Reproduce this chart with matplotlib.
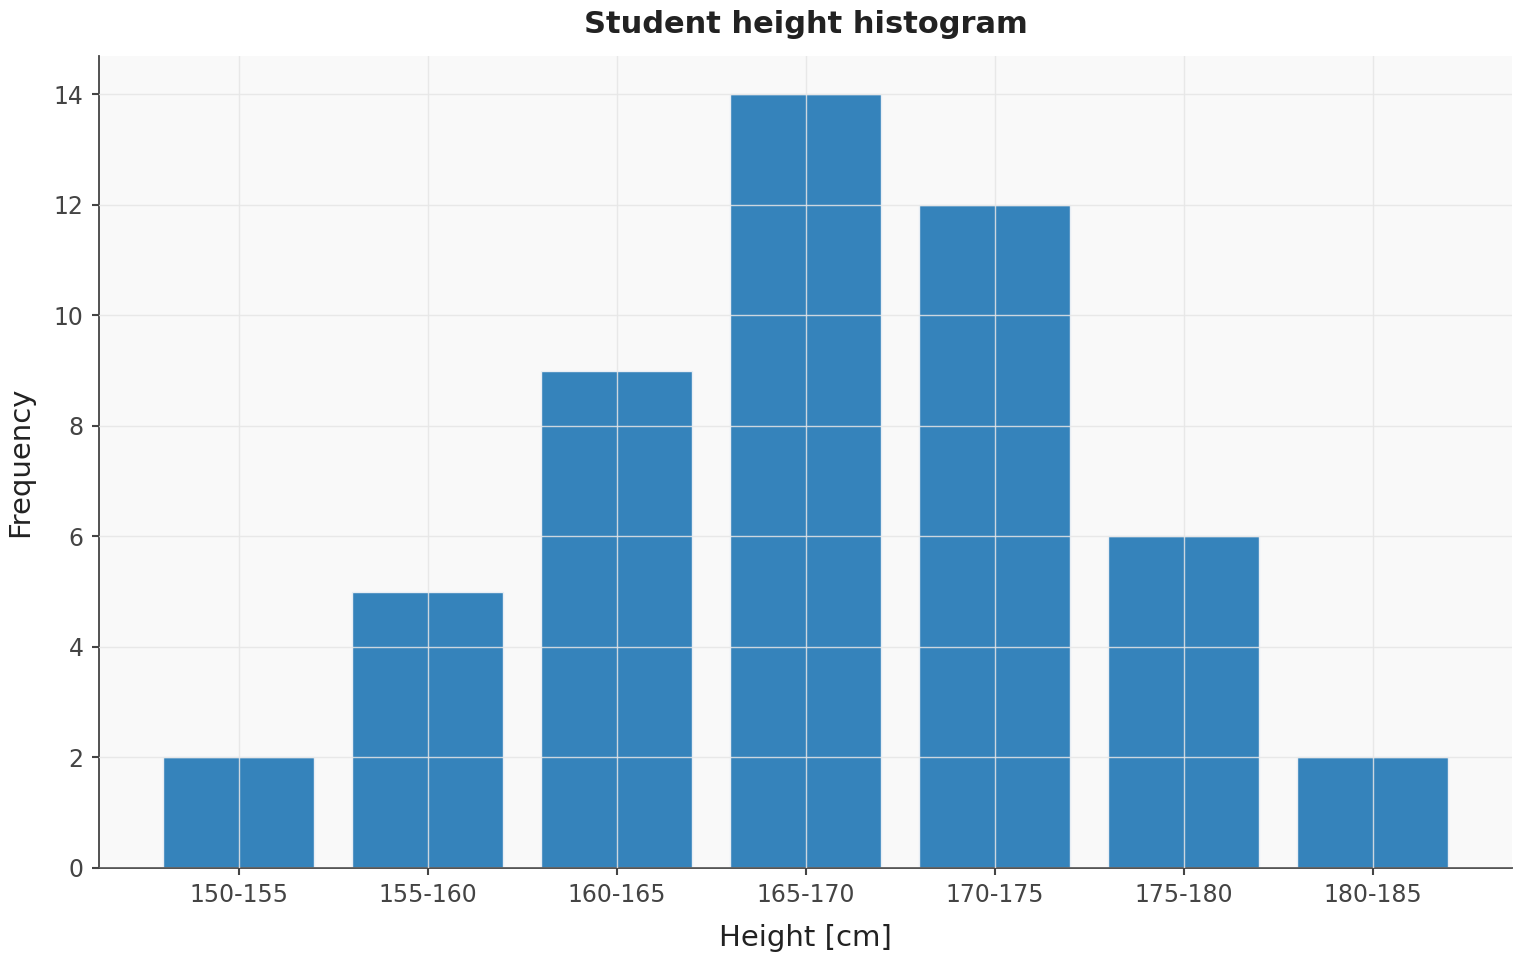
import matplotlib
matplotlib.use("Agg")
import numpy as np
from matplotlib import pyplot as plt

plt.rcParams['font.family'] = ['DejaVu Sans']

bins = ['150-155', '155-160', '160-165', '165-170', '170-175', '175-180', '180-185']
counts = [2, 5, 9, 14, 12, 6, 2]

fig, ax = plt.subplots(figsize=(15.2, 9.6), dpi=100)
fig.subplots_adjust(left=0.065, right=0.995, top=0.942, bottom=0.096)
ax.set_facecolor('#f9f9f9')

x = np.arange(len(bins))
ax.bar(x, counts, width=0.8, color='#3583bb', edgecolor='#e8eef4', linewidth=1, zorder=2)
ax.grid(True, color='#e6e6e6', linewidth=1, zorder=3, alpha=0.85)
ax.set_axisbelow(False)

ax.set_xticks(x)
ax.set_xticklabels(bins)
ax.set_ylim(0, 14.7)
ax.tick_params(labelsize=17, colors='#444444', length=5, width=1.5, pad=6)
for s in ['top', 'right']:
    ax.spines[s].set_visible(False)
for s in ['left', 'bottom']:
    ax.spines[s].set_color('#444444')
    ax.spines[s].set_linewidth(1.3)

ax.set_xlabel('Height [cm]', fontsize=21, color='#222222', labelpad=12)
ax.set_ylabel('Frequency', fontsize=21, color='#222222', labelpad=14)
ax.set_title('Student height histogram', fontsize=22, fontweight='bold', color='#222222', pad=16)

plt.savefig('out.png', dpi=100)
